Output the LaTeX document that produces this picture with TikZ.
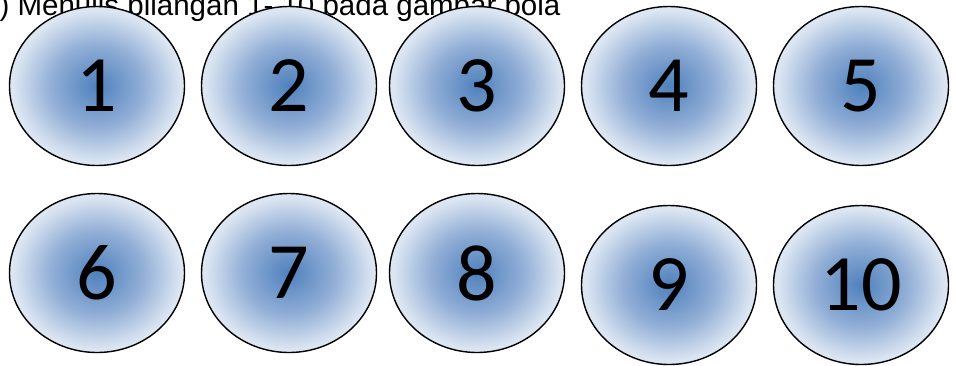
\documentclass[tikz,border=0pt]{standalone}
\usepackage{fontspec}
\setmainfont{Liberation Sans}
\newfontfamily\numfont{Carlito}
\usepackage{xcolor}
\usepackage{tikz}
\usetikzlibrary{shapes.geometric}
\definecolor{bolaC}{RGB}{79,129,189}
\definecolor{bolaM}{RGB}{145,174,214}
\definecolor{bolaE}{RGB}{220,230,242}
\pgfdeclareradialshading{bolashade}{\pgfpoint{0bp}{0bp}}{%
  color(0bp)=(bolaC); color(13bp)=(bolaM); color(24bp)=(bolaE); color(50bp)=(bolaE)}
\tikzset{
    bola/.style={ellipse, draw=black, line width=1.4pt, shading=bolashade,
                 minimum width=175pt, minimum height=159pt, inner sep=0pt,
                 font=\numfont\fontsize{80}{80}\selectfont},
    judul/.style={anchor=base west, inner sep=0pt,
                  font=\fontsize{29.5}{29.5}\selectfont}
}
\begin{document}
\begin{tikzpicture}[x=1pt, y=-1pt]
\useasboundingbox (0,0) rectangle (955,365);
\clip (0,0) rectangle (955,365);
% ── Title (behind the balls) ──────────────────────────────────────────
\node[judul] at (-17,15) (title) {a) Menulis bilangan 1- 10 pada gambar bola};

% ── First row ─────────────────────────────────────────────────────────
\node[bola] at (97, 86)  (b1) {1};
\node[bola] at (289,86)  (b2) {2};
\node[bola] at (477,86)  (b3) {3};
\node[bola] at (669,86)  (b4) {4};
\node[bola] at (861,86)  (b5) {5};

% ── Second row ────────────────────────────────────────────────────────
\node[bola] at (97, 273) (b6)  {6};
\node[bola] at (289,273) (b7)  {7};
\node[bola] at (477,273) (b8)  {8};
\node[bola] at (669,285) (b9)  {9};
\node[bola] at (861,285) (b10) {10};
\end{tikzpicture}
\end{document}
